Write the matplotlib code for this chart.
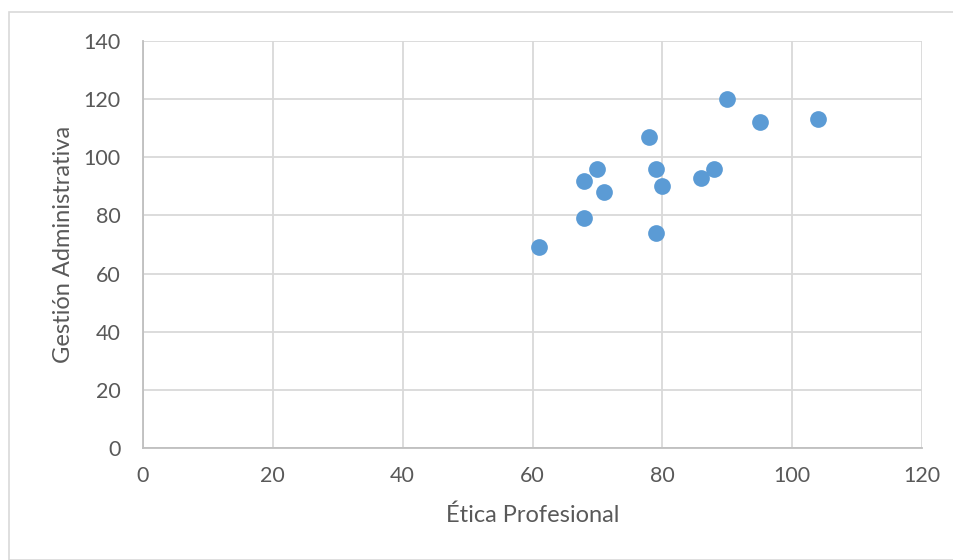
import matplotlib.pyplot as plt
from matplotlib.patches import Rectangle

etica = [61, 68, 68, 70, 71, 78, 79, 79, 80, 86, 88, 90, 95, 104]
gestion = [69, 92, 79, 96, 88, 107, 96, 74, 90, 93, 96, 120, 112, 113]

x_ticks = [0, 20, 40, 60, 80, 100, 120]
y_ticks = [0, 20, 40, 60, 80, 100, 120, 140]

plt.rcParams['font.family'] = ['Lato', 'DejaVu Sans']
text_color = '#595959'

fig = plt.figure(figsize=(9.54, 5.6), dpi=100)
ax = fig.add_axes([0.1499, 0.2, 0.8166, 0.7268])

# chart area border
fig.patches.append(Rectangle((9.5 / 954, 0), 1.2, 1 - 11.5 / 560, transform=fig.transFigure,
                             fill=False, edgecolor='#D9D9D9', linewidth=1.2))

ax.scatter(etica, gestion, s=145, color='#5B9BD5', zorder=3, linewidths=0)

ax.set_xlim(0, 120)
ax.set_ylim(0, 140)
ax.set_xticks(x_ticks)
ax.set_yticks(y_ticks)
ax.grid(True, color='#D9D9D9', linewidth=1.3)
ax.set_axisbelow(True)

for side in ['top', 'right']:
    ax.spines[side].set_visible(False)
for side in ['left', 'bottom']:
    ax.spines[side].set_color('#BFBFBF')
    ax.spines[side].set_linewidth(1.3)

ax.tick_params(length=0, labelsize=15.5, labelcolor=text_color)
ax.tick_params(axis='y', pad=16)
ax.tick_params(axis='x', pad=13)
ax.set_xlabel('Ética Profesional', fontsize=17, color=text_color, labelpad=13)
ax.set_ylabel('Gestión Administrativa', fontsize=17, color=text_color, labelpad=7)

fig.savefig('out.png', dpi=100)
